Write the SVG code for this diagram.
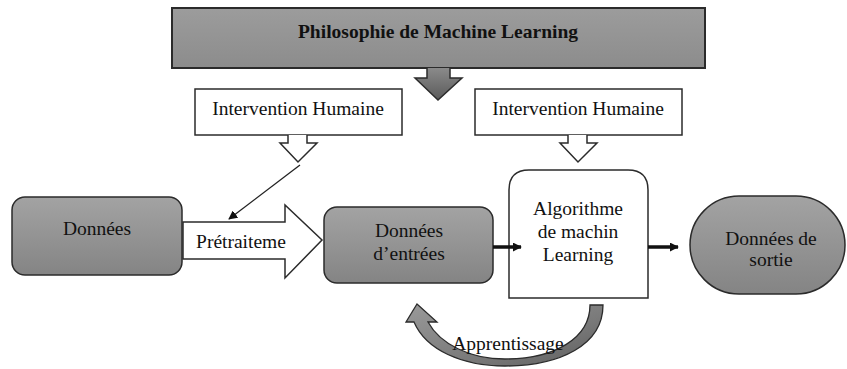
<svg xmlns="http://www.w3.org/2000/svg" width="847" height="369" viewBox="0 0 847 369">
  <defs>
    <linearGradient id="grayFill" x1="0" y1="0" x2="0" y2="1">
      <stop offset="0" stop-color="#a3a3a3"/>
      <stop offset="1" stop-color="#848484"/>
    </linearGradient>
    <linearGradient id="bannerFill" x1="0" y1="0" x2="0" y2="1">
      <stop offset="0" stop-color="#9c9c9c"/>
      <stop offset="1" stop-color="#8c8c8c"/>
    </linearGradient>
    <linearGradient id="downFill" x1="0" y1="0" x2="0" y2="1">
      <stop offset="0" stop-color="#8a8a8a"/>
      <stop offset="1" stop-color="#5a5a5a"/>
    </linearGradient>
    <linearGradient id="loopFill" x1="0" y1="0" x2="1" y2="1">
      <stop offset="0" stop-color="#9a9a9a"/>
      <stop offset="0.6" stop-color="#7a7a7a"/>
      <stop offset="1" stop-color="#5e5e5e"/>
    </linearGradient>
    <marker id="headThin" viewBox="0 0 10 10" refX="9" refY="5" markerWidth="9" markerHeight="9" markerUnits="userSpaceOnUse" orient="auto">
      <path d="M0,0 L10,5 L0,10 Z" fill="#111"/>
    </marker>
    <marker id="headBold" viewBox="0 0 10 10" refX="9" refY="5" markerWidth="9" markerHeight="9" markerUnits="userSpaceOnUse" orient="auto">
      <path d="M0,0 L10,5 L0,10 Z" fill="#111"/>
    </marker>
    <style>
      .label { font-family: "Liberation Serif", "DejaVu Serif", serif; font-size: 19.5px; fill: #111; text-anchor: middle; }
      .title { font-weight: bold; }
      .gray { fill: url(#grayFill); stroke: #2b2b2b; stroke-width: 1.5; }
      .white { fill: #fff; stroke: #2b2b2b; stroke-width: 1.5; }
      .thin { fill: none; stroke: #222; stroke-width: 1.3; }
      .bold { fill: none; stroke: #111; stroke-width: 3.5; }
    </style>
  </defs>

  <!-- banner -->
  <g id="philosophie">
    <rect x="172" y="8" width="533" height="60" fill="url(#bannerFill)" stroke="#2b2b2b" stroke-width="2"/>
    <text class="label title" x="438" y="38" font-family="Liberation Serif, serif">Philosophie de Machine Learning</text>
    <path d="M427,68 L427,78 L415,78 L438,100 L462,78 L450,78 L450,68" fill="url(#downFill)" stroke="#2b2b2b" stroke-width="1.5"/>
  </g>

  <!-- human intervention, left -->
  <g id="intervention1">
    <rect class="white" x="195" y="89" width="207" height="46"/>
    <text class="label" x="298" y="115">Intervention Humaine</text>
    <path class="white" d="M288,135 L288,143 L280,143 L298,162 L317,143 L307,143 L307,135"/>
  </g>

  <!-- human intervention, right -->
  <g id="intervention2">
    <rect class="white" x="475" y="89" width="207" height="46"/>
    <text class="label" x="578" y="115">Intervention Humaine</text>
    <path class="white" d="M568,135 L568,143 L560,143 L578,162 L597,143 L587,143 L587,135"/>
  </g>

  <!-- raw data -->
  <g id="donnees">
    <rect class="gray" x="12" y="197" width="170" height="78" rx="13"/>
    <text class="label" x="97" y="235">Données</text>
  </g>

  <!-- preprocessing block arrow -->
  <g id="pretraitement">
    <path class="white" d="M183,222 L285,222 L285,205 L322,240 L285,278 L285,259 L183,259 Z"/>
    <text class="label" x="241" y="248">Prétraiteme</text>
  </g>

  <!-- input data -->
  <g id="entrees">
    <rect class="gray" x="324" y="207" width="169" height="76" rx="13"/>
    <text class="label" x="409" y="237">Données</text>
    <text class="label" x="409" y="260">d’entrées</text>
  </g>

  <!-- algorithm -->
  <g id="algorithme">
    <path class="white" d="M509,298 L509,190 Q509,170 529,170 L628,170 Q648,170 648,190 L648,298 Z"/>
    <text class="label" x="578" y="215">Algorithme</text>
    <text class="label" x="578" y="238">de machin</text>
    <text class="label" x="578" y="261">Learning</text>
  </g>

  <!-- output data -->
  <g id="sortie">
    <rect class="gray" x="690" y="196" width="155" height="98" rx="49"/>
    <text class="label" x="771" y="245">Données de</text>
    <text class="label" x="771" y="266">sortie</text>
  </g>

  <!-- learning loop -->
  <g id="apprentissage">
    <path d="M603,305 C603,345 560,366 505,366 C462,366 426,350 414,322 L406,322 L417,304 L437,322 L428,322 C440,344 470,359 505,359 C555,359 590,338 590,305 Z" fill="url(#loopFill)" stroke="#2b2b2b" stroke-width="1.3"/>
    <text class="label" x="508" y="350">Apprentissage</text>
  </g>

  <!-- connectors -->
  <g id="connectors">
    <line class="thin" x1="300" y1="165" x2="229" y2="219" marker-end="url(#headThin)"/>
    <line class="bold" x1="493" y1="247" x2="521" y2="247" marker-end="url(#headBold)"/>
    <line class="bold" x1="648" y1="247" x2="678" y2="247" marker-end="url(#headBold)"/>
  </g>
</svg>
